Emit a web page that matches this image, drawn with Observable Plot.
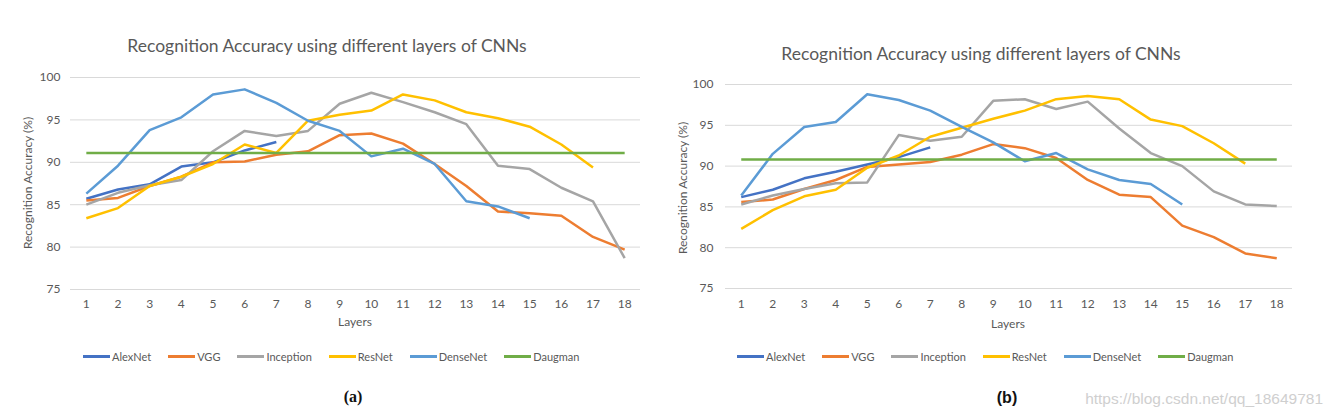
<!DOCTYPE html>
<html>
<head>
<meta charset="utf-8">
<script src="https://cdn.jsdelivr.net/npm/d3@7"></script>
<script src="https://cdn.jsdelivr.net/npm/@observablehq/plot@0.6"></script>
<style>
  body { margin: 0; background: #fff; }
  #root { position: relative; width: 1335px; height: 418px; overflow: hidden; font-family: Lato, "Open Sans", sans-serif; color: #595959; }
  .abs { position: absolute; white-space: nowrap; }
  .title { font-size: 17.5px; transform: translateX(-50%); }
  .xlab { font-size: 12px; transform: translateX(-50%); }
  .ylab { font-size: 12px; transform: translate(-50%, -50%) rotate(-90deg); }
  .legend { display: flex; align-items: center; gap: 17px; font-size: 11px; }
  .item { display: flex; align-items: center; }
  .swatch { width: 27px; height: 2.5px; margin-right: 2px; }
  .cap { font-size: 16px; font-weight: bold; color: #111; transform: translateX(-50%); }
  .capA { font-family: "Liberation Serif", "DejaVu Serif", serif; }
  .capB { font-family: "Liberation Sans", Arial, sans-serif; }
  .wm { font-family: "Liberation Sans", Arial, sans-serif; font-size: 15.5px; color: #cfcfcf; }
</style>
</head>
<body>
<div id="root"></div>
<script>
// ---- data ----
const layers = [1, 2, 3, 4, 5, 6, 7, 8, 9, 10, 11, 12, 13, 14, 15, 16, 17, 18];
const yTicks = [75, 80, 85, 90, 95, 100];
const seriesNames = ["AlexNet", "VGG", "Inception", "ResNet", "DenseNet", "Daugman"];
const seriesColors = ["#4472C4", "#ED7D31", "#A5A5A5", "#FFC000", "#5B9BD5", "#70AD47"];
const chartTitle = "Recognition Accuracy using different layers of CNNs";
const yLabel = "Recognition Accuracy (%)";
const xLabel = "Layers";

// panel (a)
const alexA      = [85.7, 86.8, 87.4, 89.5, 90.0, 91.4, 92.4];
const vggA       = [85.5, 85.8, 87.2, 88.3, 90.0, 90.1, 90.9, 91.3, 93.2, 93.4, 92.2, 89.8, 87.2, 84.2, 84.0, 83.7, 81.2, 79.7];
const inceptionA = [85.0, 86.4, 87.3, 87.9, 91.3, 93.7, 93.1, 93.7, 96.9, 98.2, 97.1, 95.9, 94.5, 89.6, 89.2, 87.0, 85.4, 78.7];
const resnetA    = [83.4, 84.6, 87.2, 88.3, 89.8, 92.1, 91.1, 94.9, 95.6, 96.1, 98.0, 97.3, 95.9, 95.2, 94.2, 92.1, 89.4];
const densenetA  = [86.3, 89.6, 93.8, 95.3, 98.0, 98.6, 97.0, 94.9, 93.7, 90.7, 91.6, 89.8, 85.4, 84.8, 83.4];
const daugmanA   = 91.1;

// panel (b)
const alexB      = [86.2, 87.1, 88.5, 89.3, 90.2, 91.1, 92.3];
const vggB       = [85.6, 85.9, 87.2, 88.3, 89.9, 90.2, 90.5, 91.4, 92.7, 92.2, 91.0, 88.3, 86.5, 86.2, 82.7, 81.3, 79.3, 78.7];
const inceptionB = [85.3, 86.4, 87.2, 87.9, 88.0, 93.8, 93.1, 93.6, 98.0, 98.2, 97.0, 97.9, 94.6, 91.6, 90.0, 86.9, 85.3, 85.1];
const resnetB    = [82.3, 84.6, 86.3, 87.1, 89.8, 91.3, 93.6, 94.7, 95.8, 96.8, 98.2, 98.6, 98.2, 95.7, 94.9, 92.8, 90.3];
const densenetB  = [86.4, 91.5, 94.8, 95.4, 98.8, 98.1, 96.8, 94.8, 92.9, 90.6, 91.6, 89.6, 88.3, 87.8, 85.3];
const daugmanB   = 90.8;

// ---- build ----
function rowsFor(seriesValues, daugman) {
  const rows = [];
  seriesValues.forEach((vals, k) => {
    vals.forEach((v, i) => rows.push({layer: layers[i], value: v, series: seriesNames[k]}));
  });
  layers.forEach(l => rows.push({layer: l, value: daugman, series: "Daugman"}));
  return rows;
}

function chart(rows, o) {
  return Plot.plot({
    width: o.width, height: o.height,
    marginLeft: o.ml, marginRight: o.mr, marginTop: o.mt, marginBottom: o.mb,
    style: {fontFamily: "Lato, 'Open Sans', sans-serif", fontSize: "12px", color: "#595959", background: "transparent", overflow: "visible"},
    x: {domain: [0.5, 18.5], ticks: layers, tickFormat: d => String(d), tickSize: 0, tickPadding: o.xpad, label: null},
    y: {domain: [75, 100], ticks: yTicks, tickSize: 0, tickPadding: o.ypad, label: null},
    color: {domain: seriesNames, range: seriesColors},
    marks: [
      Plot.ruleY(yTicks, {stroke: "#d9d9d9", strokeWidth: 1}),
      Plot.line(rows, {x: "layer", y: "value", z: "series", stroke: "series", strokeWidth: 2.5, strokeLinejoin: "round", strokeLinecap: "butt"})
    ]
  });
}

const root = document.getElementById("root");
function add(cls, text, left, top) {
  const d = document.createElement("div");
  d.className = "abs " + cls;
  d.textContent = text;
  d.style.left = left + "px";
  d.style.top = top + "px";
  root.appendChild(d);
  return d;
}
function legend(left, top) {
  const lg = document.createElement("div");
  lg.className = "abs legend";
  lg.style.left = left + "px";
  lg.style.top = top + "px";
  seriesNames.forEach((n, i) => {
    const it = document.createElement("div");
    it.className = "item";
    const sw = document.createElement("div");
    sw.className = "swatch";
    sw.style.background = seriesColors[i];
    const tx = document.createElement("span");
    tx.textContent = n;
    it.appendChild(sw); it.appendChild(tx);
    lg.appendChild(it);
  });
  root.appendChild(lg);
}
function place(svg, left, top) {
  const w = document.createElement("div");
  w.className = "abs";
  w.style.left = left + "px";
  w.style.top = top + "px";
  w.appendChild(svg);
  root.appendChild(w);
}

// panel (a)
place(chart(rowsFor([alexA, vggA, inceptionA, resnetA, densenetA], daugmanA),
  {width: 660, height: 253, ml: 70, mr: 20, mt: 11, mb: 30, xpad: 10, ypad: 10}), 0, 66);
add("title", chartTitle, 327, 35);
add("ylab", yLabel, 27, 183);
add("xlab", xLabel, 355, 314);
legend(83, 350);
add("cap capA", "(a)", 353, 388);

// panel (b)
place(chart(rowsFor([alexB, vggB, inceptionB, resnetB, densenetB], daugmanB),
  {width: 680, height: 245, ml: 70, mr: 43, mt: 11, mb: 30, xpad: 11, ypad: 12}), 655, 73);
add("title", chartTitle, 981, 43);
add("ylab", yLabel, 682, 188);
add("xlab", xLabel, 1008, 316);
legend(737, 350);
add("cap capB", "(b)", 1007, 389);
const wm = add("wm", "https://blog.csdn.net/qq_18649781", 0, 390);
wm.style.left = "auto"; wm.style.right = "12px";
</script>
</body>
</html>
